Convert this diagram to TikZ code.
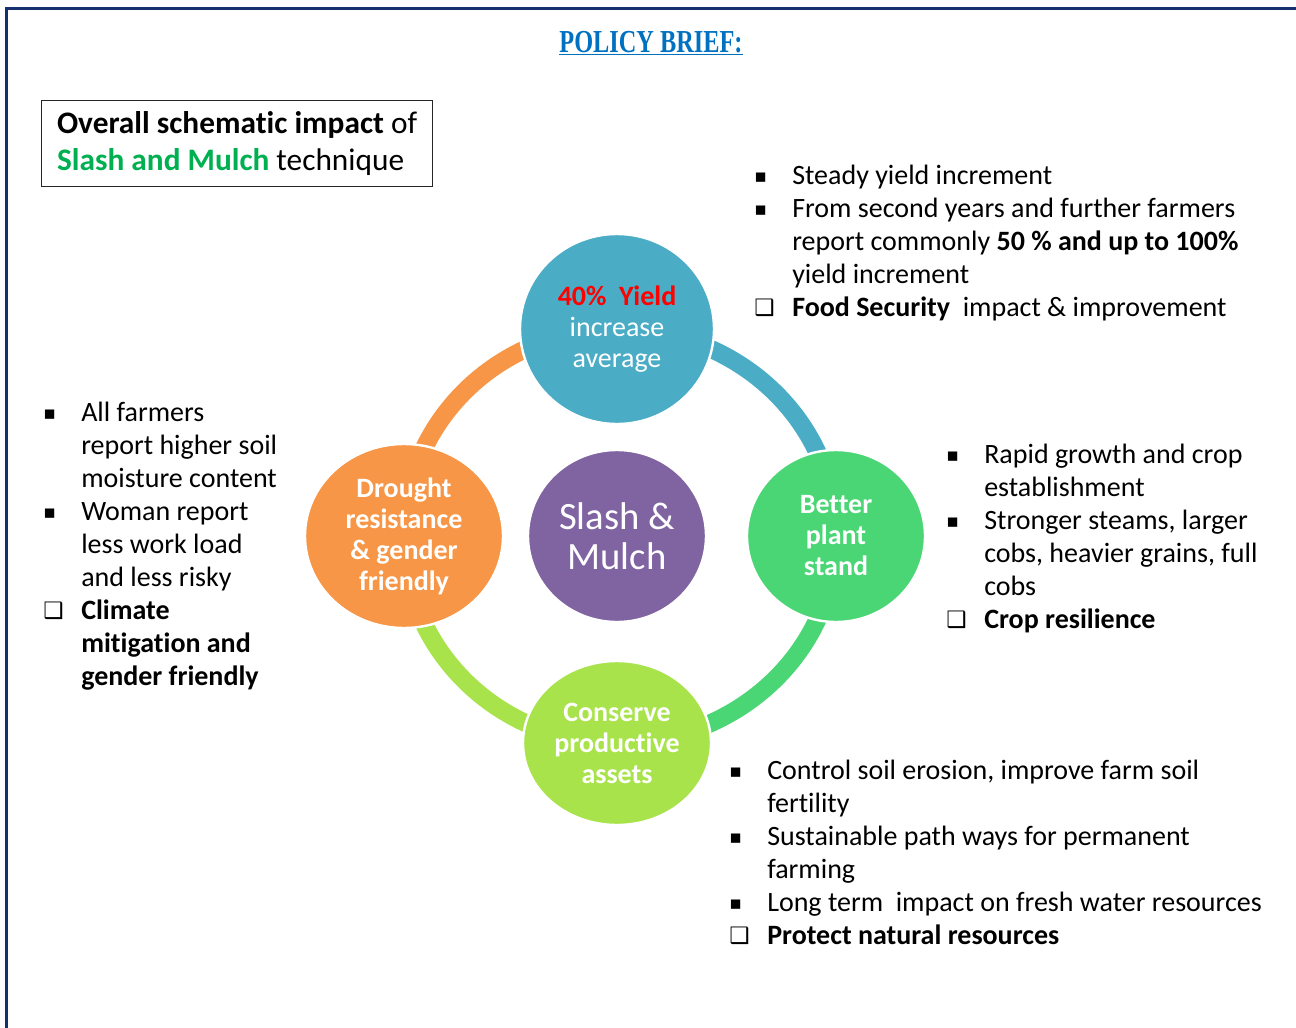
\documentclass[tikz,border=0pt]{standalone}
\usepackage{fontspec}
\setmainfont{Carlito}[Ligatures=NoCommon]
\newfontfamily\titlefont{Liberation Serif}
\newfontfamily\symfont{DejaVu Sans}
\usetikzlibrary{shapes.geometric,backgrounds}

\definecolor{frameblue}{HTML}{14306E}
\definecolor{titleblue}{HTML}{0070C0}
\definecolor{yieldblue}{HTML}{4BACC6}
\definecolor{droughtorange}{HTML}{F79646}
\definecolor{mulchpurple}{HTML}{8064A2}
\definecolor{plantgreen}{HTML}{4AD675}
\definecolor{assetlime}{HTML}{A9E34B}
\definecolor{slashgreen}{HTML}{00B050}
\definecolor{yieldred}{HTML}{FF0000}

% bullets of the side lists
\newcommand{\sqb}{\makebox[28.5pt][l]{\fontsize{14}{14}\symfont\raisebox{1.5pt}{▪}}}
\newcommand{\boxb}{\makebox[28.5pt][l]{\fontsize{17}{17}\symfont\bfseries\raisebox{0.5pt}{❑}}}
\newcommand{\indb}{\hspace*{28.5pt}}

\begin{document}
\begin{tikzpicture}[x=0.75pt,y=0.75pt,yscale=-1,xscale=1,
  bubble/.style={ellipse, draw=white, line width=1.8pt, text=white, align=center, inner sep=0pt, font=\fontsize{21}{23.25}\selectfont},
  ring/.style={line width=13.5pt},
  sidetext/.style={anchor=base west, align=left, inner sep=0pt, font=\fontsize{21}{24.75}\selectfont}]
\useasboundingbox (0,0) rectangle (1296,1028);

%Page border
\draw[frameblue, line width=2.25pt] (6,1028) -- (6,8) -- (1296,8) ;

% Title
\node[anchor=base, text=titleblue, inner sep=0pt, font=\fontsize{24}{28}\titlefont\bfseries] (title) at (651,52) {\scalebox{0.76}[1]{\underline{POLICY BRIEF:}}};

% Heading box
\node[draw=black!85, line width=0.9pt, anchor=north west, minimum width=293.25pt, minimum height=64.5pt, align=left, inner xsep=9pt, font=\fontsize{23.5}{27.75}\selectfont] (heading) at (41,100) {\textbf{Overall schematic impact} of\\\textcolor{slashgreen}{\textbf{Slash and Mulch}} technique};

%Shape: Circles
\node[bubble, fill=yieldblue, minimum width=145.5pt, minimum height=142.5pt] (yield) at (617,329) {\textcolor{yieldred}{\textbf{40\%\ \ Yield}}\\increase\\average};
\node[bubble, fill=droughtorange, minimum width=148.5pt, minimum height=138pt, font=\fontsize{21}{23.25}\selectfont\bfseries] (drought) at (404,536) {Drought\\resistance\\\&~gender\\friendly};
\node[bubble, fill=mulchpurple, minimum width=133.5pt, minimum height=129pt, font=\fontsize{29}{30}\selectfont] (mulch) at (617,536) {Slash \&\\Mulch};
\node[bubble, fill=plantgreen, minimum width=133.5pt, minimum height=129pt, font=\fontsize{21}{23.25}\selectfont\bfseries] (plant) at (836,536) {Better\\plant\\stand};
\node[bubble, fill=assetlime, minimum width=141pt, minimum height=123pt, font=\fontsize{21}{23.25}\selectfont\bfseries] (asset) at (617,743) {Conserve\\productive\\assets};

%Ring arcs
\begin{scope}[on background layer]
\draw[ring, droughtorange] (drought.center) arc[start angle=180, end angle=270, x radius=213, y radius=207] ;
\draw[ring, yieldblue] (yield.center) arc[start angle=270, end angle=360, x radius=219, y radius=207] ;
\draw[ring, plantgreen] (plant.center) arc[start angle=0, end angle=90, x radius=219, y radius=207] ;
\draw[ring, assetlime] (asset.center) arc[start angle=90, end angle=180, x radius=213, y radius=207] ;
\end{scope}

% Text Node (placed at the baseline of its last line)
\node[sidetext] (yieldnotes) at (754,316) {\sqb Steady yield increment\\
\sqb From second years and further farmers\\
\indb report commonly \textbf{50 \% and up to 100\%}\\
\indb yield increment\\
\boxb\textbf{Food Security}\ \ impact \& improvement};
% Text Node
\node[sidetext] (droughtnotes) at (43,685) {\sqb All farmers\\
\indb report higher soil\\
\indb moisture content\\
\sqb Woman report\\
\indb less work load\\
\indb and less risky\\
\boxb\textbf{Climate}\\
\indb\textbf{mitigation and}\\
\indb\textbf{gender friendly}};
% Text Node
\node[sidetext] (plantnotes) at (946,628) {\sqb Rapid growth and crop\\
\indb establishment\\
\sqb Stronger steams, larger\\
\indb cobs, heavier grains, full\\
\indb cobs\\
\boxb\textbf{Crop resilience}};
% Text Node
\node[sidetext] (assetnotes) at (729,944) {\sqb Control soil erosion, improve farm soil\\
\indb fertility\\
\sqb Sustainable path ways for permanent\\
\indb farming\\
\sqb Long term\ \ impact on fresh water resources\\
\boxb\textbf{Protect natural resources}};

\end{tikzpicture}
\end{document}
